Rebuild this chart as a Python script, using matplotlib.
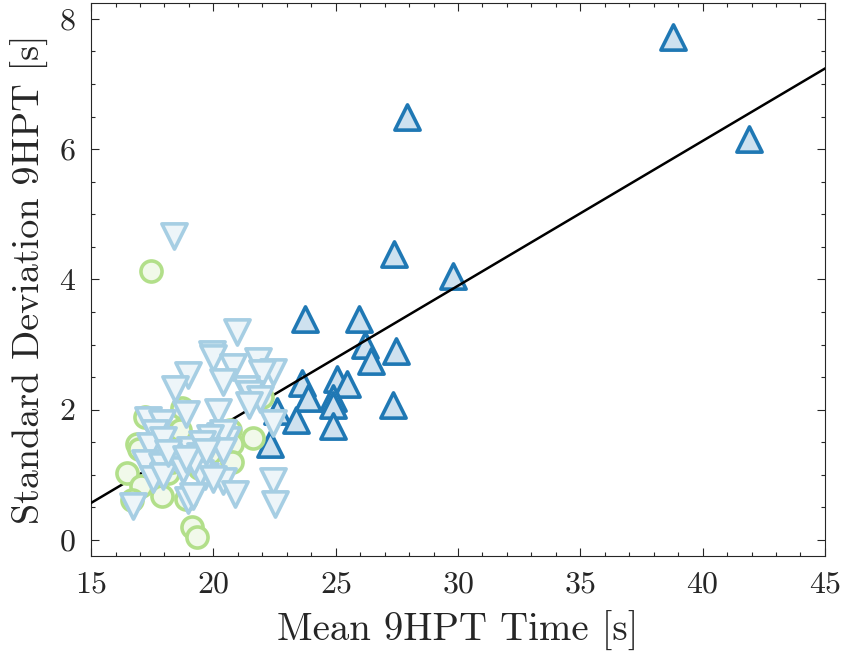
import numpy as np
import matplotlib
matplotlib.use("Agg")
import matplotlib.pyplot as plt
import matplotlib.ticker as ticker

plt.rcParams["font.family"] = "cmr10"
plt.rcParams["mathtext.fontset"] = "cm"
plt.rcParams["axes.formatter.use_mathtext"] = True
plt.rcParams["font.size"] = 23

# group 1: green circles
x_green = [17.47, 17.22, 18.73, 18.64, 16.87, 16.94, 16.46, 17.04, 16.66, 17.92,
           18.88, 19.12, 19.32, 20.70, 20.78, 20.75, 21.60, 21.97, 18.15, 19.86,
           18.30, 19.40]
y_green = [4.13, 1.89, 2.02, 1.69, 1.47, 1.40, 1.03, 0.83, 0.62, 0.68,
           0.63, 0.20, 0.05, 1.69, 1.47, 1.20, 1.57, 2.20, 1.03, 1.34,
           1.20, 1.10]

# group 2: light blue down triangles
x_down = [18.39, 20.98, 19.93, 20.00, 20.82, 21.81, 22.45, 22.00, 18.98, 20.41,
          18.42, 21.33, 21.50, 21.90, 21.45, 18.88, 20.17, 17.34, 17.89, 17.62,
          17.41, 17.95, 17.21, 17.89, 17.55, 17.95, 18.64, 19.05, 19.45, 19.86,
          20.27, 20.55, 19.32, 19.66, 20.41, 20.88, 22.45, 22.52, 18.98, 16.73,
          18.50, 18.77, 18.16, 22.45, 20.41, 19.86, 19.52, 20.41, 19.47, 19.18,
          20.00, 19.20, 18.90, 19.70]
y_down = [4.66, 3.19, 2.85, 2.80, 2.66, 2.75, 2.58, 2.57, 2.53, 2.42,
          2.32, 2.32, 2.24, 2.16, 2.08, 1.94, 1.96, 1.85, 1.80, 1.65,
          1.44, 1.54, 1.19, 1.13, 0.93, 0.98, 1.34, 1.39, 1.29, 1.44,
          1.59, 1.54, 1.13, 0.98, 0.90, 0.70, 0.90, 0.55, 0.62, 0.52,
          1.24, 1.08, 1.34, 1.80, 1.65, 1.57, 1.47, 1.36, 1.03, 0.67,
          0.93, 1.20, 1.25, 1.35]

# group 3: dark blue up triangles
x_up = [38.80, 41.90, 27.90, 27.40, 29.80, 23.75, 25.95, 26.20, 26.44, 27.45,
        23.61, 23.88, 25.04, 25.45, 24.90, 24.88, 24.90, 27.36, 22.59, 23.38,
        22.32]
y_up = [7.73, 6.15, 6.49, 4.39, 4.05, 3.40, 3.40, 2.99, 2.75, 2.90,
        2.41, 2.18, 2.48, 2.39, 2.18, 2.08, 1.75, 2.07, 1.98, 1.85,
        1.47]

# linear fit (slope, intercept)
fit_coef = [0.2223, -2.765]

c_green = "#b2df8a"
c_light = "#a6cee3"
c_dark = "#1f78b4"


def fill(c, a=0.22):
    rgb = np.array(matplotlib.colors.to_rgb(c))
    return tuple(1 - a * (1 - rgb))


fig = plt.figure(figsize=(8.43, 6.58), dpi=100)
ax = fig.add_axes([0.108, 0.155, 0.8706, 0.8405])

xl = np.array([15, 45])
ax.plot(xl, np.polyval(fit_coef, xl), color="black", lw=1.8, zorder=3)

ax.scatter(x_up, y_up, s=330, marker="^", facecolor=fill(c_dark), edgecolor=c_dark,
           linewidth=2.6, zorder=2)
ax.scatter(x_green, y_green, s=230, marker="o", facecolor=fill(c_green, 0.18), edgecolor=c_green,
           linewidth=2.6, zorder=4)
ax.scatter(x_down, y_down, s=330, marker="v", facecolor=fill(c_light, 0.2), edgecolor=c_light,
           linewidth=2.6, zorder=5)

ax.set_xlim(15, 45)
ax.set_ylim(-0.245, 8.245)
ax.set_xticks([15, 20, 25, 30, 35, 40, 45])
ax.set_yticks([0, 2, 4, 6, 8])
ax.xaxis.set_minor_locator(ticker.MultipleLocator(1))
ax.yaxis.set_minor_locator(ticker.MultipleLocator(0.5))
ax.tick_params(which="both", direction="in", top=True, right=True, color="#262626", width=0.8)
ax.tick_params(which="major", length=6, pad=11, labelcolor="#262626")
ax.tick_params(which="minor", length=3)
for sp in ax.spines.values():
    sp.set_color("#262626")
    sp.set_linewidth(0.8)

ax.set_xlabel("Mean 9HPT Time [s]", color="#262626", fontsize=28, labelpad=9)
ax.set_ylabel("Standard Deviation 9HPT [s]", color="#262626", fontsize=27.5, labelpad=7)

fig.savefig("out.png", dpi=100)
